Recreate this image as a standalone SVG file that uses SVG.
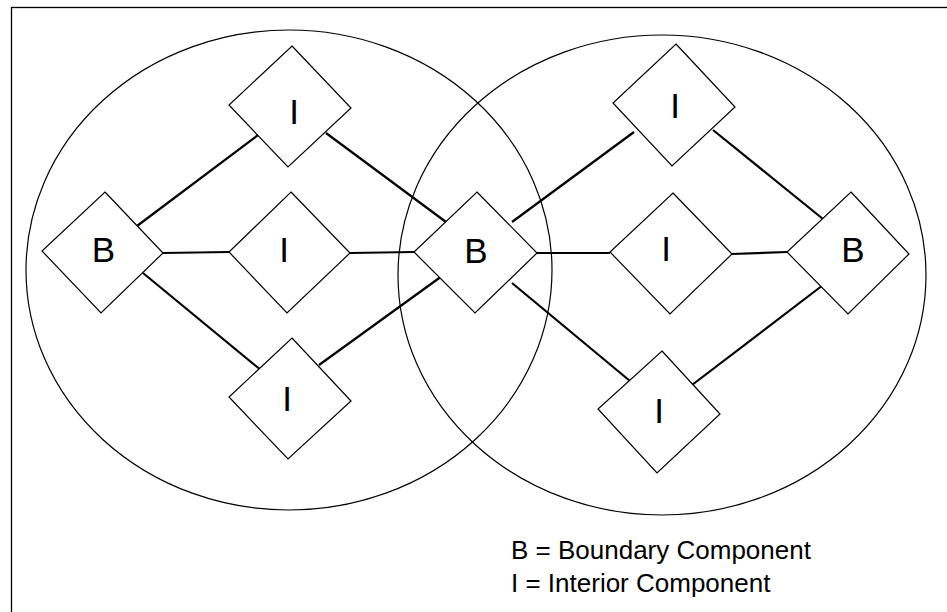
<svg xmlns="http://www.w3.org/2000/svg" width="947" height="612" viewBox="0 0 947 612">
<style>
.frame{fill:none;stroke:#000;stroke-width:1.3}
.ring{fill:none;stroke:#000;stroke-width:1.2}
.dia{fill:#fff;stroke:#000;stroke-width:1.2}
.lbl{font-family:"Liberation Sans",Arial,sans-serif;font-size:35px;fill:#000;text-anchor:middle}
.con line{stroke:#000;stroke-width:2.2}
.leg{font-family:"Liberation Sans",Arial,sans-serif;font-size:26px;fill:#000}
</style>
<rect x="0" y="0" width="947" height="612" fill="#fff"/>
<rect class="frame" x="11.5" y="7.5" width="960" height="640"/>
<g id="domains">
<ellipse class="ring" cx="289" cy="270" rx="263" ry="240"/>
<ellipse class="ring" cx="662" cy="275" rx="264" ry="240"/>
</g>
<g id="connectors" class="con">
<line x1="137" y1="226" x2="258" y2="135"/>
<line x1="326" y1="133" x2="446" y2="222"/>
<line x1="163" y1="253" x2="229" y2="252"/>
<line x1="350" y1="253" x2="414" y2="252"/>
<line x1="143" y1="273" x2="262" y2="371"/>
<line x1="319" y1="365" x2="442" y2="276"/>
<line x1="512" y1="222" x2="634" y2="132"/>
<line x1="713" y1="130" x2="823" y2="219"/>
<line x1="537" y1="253" x2="610" y2="253"/>
<line x1="732" y1="254" x2="787" y2="252"/>
<line x1="512" y1="283" x2="630" y2="381"/>
<line x1="692" y1="385" x2="823" y2="285"/>
</g>
<g id="b-left">
<polygon class="dia" points="105,192 163,253 101,313 42,251"/>
<text class="lbl" x="103.5" y="262">B</text>
</g>
<g id="i-top-left">
<polygon class="dia" points="292,46 351,108 288,167 229,105"/>
<text class="lbl" x="294" y="124">I</text>
</g>
<g id="i-mid-left">
<polygon class="dia" points="291,192 350,253 287,313 229,252"/>
<text class="lbl" x="284" y="262">I</text>
</g>
<g id="i-bottom-left">
<polygon class="dia" points="292,338 351,401 288,459 229,397"/>
<text class="lbl" x="287" y="411">I</text>
</g>
<g id="b-middle">
<polygon class="dia" points="477,192 537,253 475,313 414,252"/>
<text class="lbl" x="476" y="263">B</text>
</g>
<g id="i-top-right">
<polygon class="dia" points="676,44 735,107 672,166 613,103"/>
<text class="lbl" x="675" y="118">I</text>
</g>
<g id="i-mid-right">
<polygon class="dia" points="673,193 732,254 670,314 610,252"/>
<text class="lbl" x="666" y="261">I</text>
</g>
<g id="b-right">
<polygon class="dia" points="851,192 909,254 848,314 787,252"/>
<text class="lbl" x="853" y="262">B</text>
</g>
<g id="i-bottom-right">
<polygon class="dia" points="662,351 720,414 657,473 598,409"/>
<text class="lbl" x="659" y="423">I</text>
</g>
<g id="legend">
<text class="leg" x="511" y="559">B = Boundary Component</text>
<text class="leg" x="511" y="592">I = Interior Component</text>
</g>
</svg>
